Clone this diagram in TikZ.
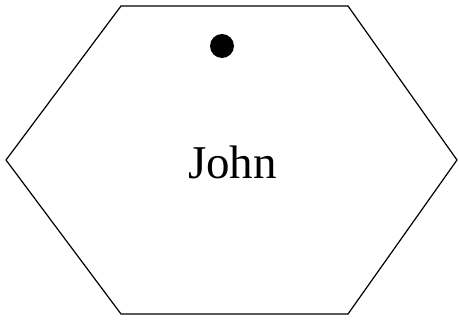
\documentclass[tikz,border=0pt]{standalone}
\usepackage{fontspec}
\setmainfont{Liberation Serif}
\usetikzlibrary{positioning}

\begin{document}
\begin{tikzpicture}[
    x=1pt, y=-1pt,
    edge/.style={draw, line width=1.2pt, line join=miter},
    label/.style={font=\fontsize{47}{50}\selectfont, inner sep=0pt},
    marker/.style={circle, fill=black, minimum size=24pt, inner sep=0pt}
]
    \useasboundingbox (0,0) rectangle (459,320);
    \coordinate (tl) at (121,6);
    \coordinate (tr) at (348,6);
    \coordinate (r)  at (457,160);
    \coordinate (br) at (348,314);
    \coordinate (bl) at (121,314);
    \coordinate (l)  at (6,160);
    \draw[edge] (tl) -- (tr) -- (r) -- (br) -- (bl) -- (l) -- cycle;

    \node[marker] (dot) at (222,46) {};
    \node[label, anchor=base] (name) at (232.5,179) {John};
\end{tikzpicture}
\end{document}
